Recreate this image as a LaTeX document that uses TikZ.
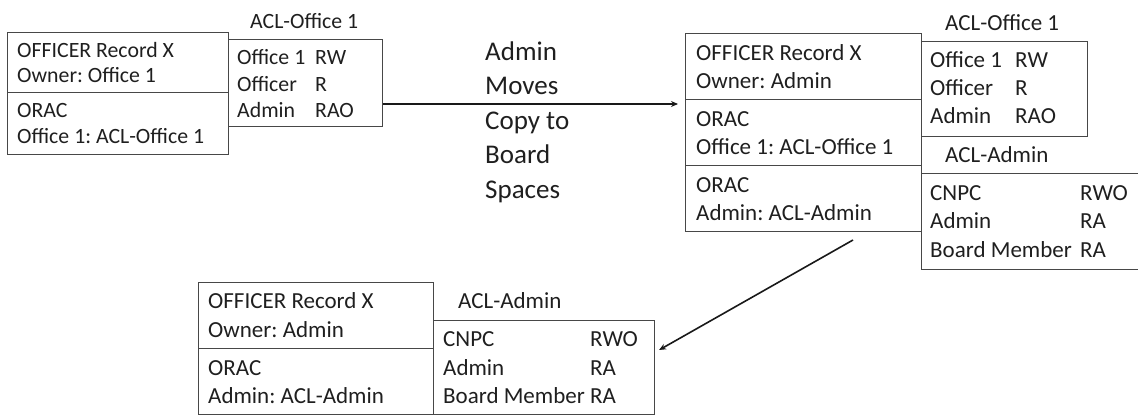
\documentclass[tikz,border=0pt]{standalone}
\usepackage{fontspec}
\setmainfont{Carlito}
\usetikzlibrary{arrows.meta,calc}
\frenchspacing
\begin{document}
\begin{tikzpicture}[x=1pt,y=-1pt,
  cell/.style={draw=black!72,line width=1.1pt,anchor=north west,inner sep=0pt,minimum width=#1},
  txt/.style={anchor=base west,inner sep=0pt,text=black!88,font=\fontsize{21.8}{25}\selectfont},
  txtb/.style={txt,font=\fontsize{23}{27}\selectfont},
  lbl/.style={anchor=base west,inner sep=0pt,text=black!88,font=\fontsize{27}{32}\selectfont},
  arr/.style={line width=1.6pt,black!90,-{Stealth[length=7pt,width=6pt]}}]
\useasboundingbox (0,0) rectangle (1138,415);

% ---- record owned by Office 1 ----
\node[cell=221pt,minimum height=60pt] (r1a) at (7,32) {};
\node[cell=221pt,minimum height=62pt] (r1b) at (7,92) {};
\node[txt] (r1t1) at (17,57) {OFFICER Record X};
\node[txt] (r1t2) at (17,82) {Owner: Office 1};
\node[txt] (r1t3) at (17,117) {ORAC};
\node[txt] (r1t4) at (17,143) {Office 1: ACL-Office 1};

\node[txt] (a1h) at (250,28) {ACL-Office 1};
\node[cell=154pt,minimum height=87pt] (acl1) at (228,39) {};
\node[txt] (a1r1) at (237,64) {Office 1};  \node[txt] (a1p1) at (315,64) {RW};
\node[txt] (a1r2) at (237,91) {Officer};   \node[txt] (a1p2) at (315,91) {R};
\node[txt] (a1r3) at (237,117) {Admin};    \node[txt] (a1p3) at (315,117) {RAO};

% ---- transition ----
\coordinate (m1) at (678,104);
\draw[arr] (acl1.east |- m1) -- (m1);
\node[lbl] (mv1) at (485,60) {Admin};
\node[lbl] (mv2) at (485,94) {Moves};
\node[lbl] (mv3) at (485,129) {Copy to};
\node[lbl] (mv4) at (485,163) {Board};
\node[lbl] (mv5) at (485,198) {Spaces};

% ---- record after the copy ----
\node[cell=236pt,minimum height=66pt] (r2a) at (685,33) {};
\node[cell=236pt,minimum height=66pt] (r2b) at (685,99) {};
\node[cell=236pt,minimum height=66pt] (r2c) at (685,165) {};
\node[txtb] (r2t1) at (696,60) {OFFICER Record X};
\node[txtb] (r2t2) at (696,88) {Owner: Admin};
\node[txtb] (r2t3) at (696,126) {ORAC};
\node[txtb] (r2t4) at (696,154) {Office 1: ACL-Office 1};
\node[txtb] (r2t5) at (696,192) {ORAC};
\node[txtb] (r2t6) at (696,220) {Admin: ACL-Admin};

\node[txtb] (a2h) at (945,30) {ACL-Office 1};
\node[cell=166pt,minimum height=95pt] (acl2) at (921,41) {};
\node[txtb] (a2r1) at (930,67) {Office 1};  \node[txtb] (a2p1) at (1015,67) {RW};
\node[txtb] (a2r2) at (930,95) {Officer};   \node[txtb] (a2p2) at (1015,95) {R};
\node[txtb] (a2r3) at (930,123) {Admin};    \node[txtb] (a2p3) at (1015,123) {RAO};

\node[txtb] (a3h) at (945,162) {ACL-Admin};
\node[cell=230pt,minimum height=96pt] (acl3) at (921,173) {};
\node[txtb] (a3r1) at (930,200) {CNPC};          \node[txtb] (a3p1) at (1080,200) {RWO};
\node[txtb] (a3r2) at (930,228) {Admin};         \node[txtb] (a3p2) at (1080,228) {RA};
\node[txtb] (a3r3) at (930,257) {Board Member};  \node[txtb] (a3p3) at (1080,257) {RA};

% ---- record in board spaces ----
\node[cell=235pt,minimum height=66pt] (r3a) at (198,282) {};
\node[cell=235pt,minimum height=66pt] (r3b) at (198,348) {};
\node[txtb] (r3t1) at (208,308) {OFFICER Record X};
\node[txtb] (r3t2) at (208,337) {Owner: Admin};
\node[txtb] (r3t3) at (208,375) {ORAC};
\node[txtb] (r3t4) at (208,403) {Admin: ACL-Admin};

\node[txtb] (a4h) at (458,308) {ACL-Admin};
\node[cell=221pt,minimum height=94pt] (acl4) at (433,320) {};
\node[txtb] (a4r1) at (443,346) {CNPC};          \node[txtb] (a4p1) at (590,346) {RWO};
\node[txtb] (a4r2) at (443,375) {Admin};         \node[txtb] (a4p2) at (590,375) {RA};
\node[txtb] (a4r3) at (443,403) {Board Member};  \node[txtb] (a4p3) at (590,403) {RA};

\coordinate (s2) at (853,240);
\coordinate (t2) at ($(acl4.north east)+(4,30)$);
\draw[arr] (s2) -- (t2);
\end{tikzpicture}
\end{document}
